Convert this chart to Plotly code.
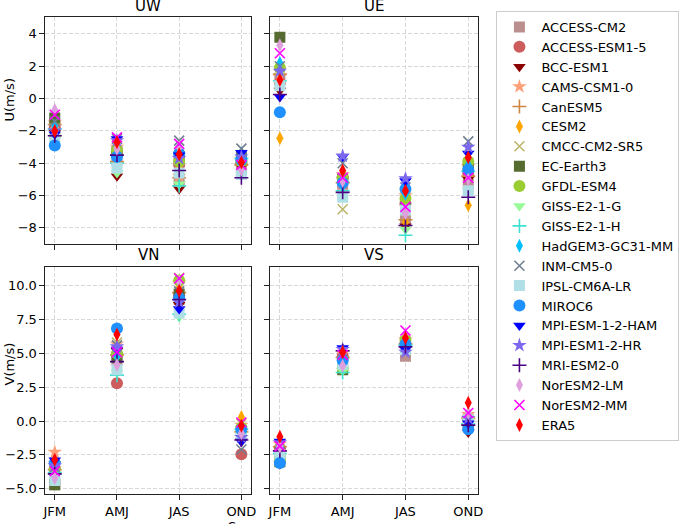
import plotly.graph_objects as go

seasons = ["JFM", "AMJ", "JAS", "OND"]
models = ["ACCESS-CM2", "ACCESS-ESM1-5", "BCC-ESM1", "CAMS-CSM1-0", "CanESM5", "CESM2",
          "CMCC-CM2-SR5", "EC-Earth3", "GFDL-ESM4", "GISS-E2-1-G", "GISS-E2-1-H",
          "HadGEM3-GC31-MM", "INM-CM5-0", "IPSL-CM6A-LR", "MIROC6", "MPI-ESM-1-2-HAM",
          "MPI-ESM1-2-HR", "MRI-ESM2-0", "NorESM2-LM", "NorESM2-MM", "ERA5"]
colors = ["#BC8F8F", "#CD5C5C", "#8B0000", "#FFA07A", "#CD853F", "#FFA500",
          "#BDB76B", "#556B2F", "#9ACD32", "#98FB98", "#40E0D0",
          "#00BFFF", "#708090", "#B0E0E6", "#1E90FF", "#0000FF",
          "#7B68EE", "#4B0082", "#DDA0DD", "#FF00FF", "#FF0000"]
symbols = ["square", "circle", "triangle-down", "star", "cross-thin", "diamond-tall",
           "x-thin", "square", "circle", "triangle-down", "cross-thin",
           "diamond-tall", "x-thin", "square", "circle", "triangle-down",
           "star", "cross-thin", "diamond-tall", "x-thin", "diamond-tall"]

# values per panel and season (same order as models)
uw_jfm = [-1.6, -1.8, -2.1, -1.5, -1.6, -1.9, -1.3, -1.2, -2.3, -2.4, -1.9, -1.7, -1.4, -2.5, -2.9, -2.2, -2.0, -2.3, -0.7, -1.0, -2.0]
uw_amj = [-3.8, -3.3, -4.8, -3.0, -3.9, -3.4, -2.9, -3.3, -3.2, -4.6, -4.0, -3.6, -2.5, -4.3, -3.6, -2.5, -2.6, -3.5, -3.1, -2.4, -2.7]
uw_jas = [-5.0, -4.1, -5.6, -4.8, -4.9, -4.2, -3.8, -3.6, -3.9, -5.3, -5.4, -3.3, -2.6, -4.6, -3.4, -3.5, -3.7, -4.45, -3.0, -2.8, -3.45]
uw_ond = [-4.4, -4.0, -4.2, -3.8, -4.1, -3.7, -3.5, -3.6, -3.9, -4.0, -3.7, -3.4, -3.1, -4.7, -3.8, -3.35, -3.6, -4.9, -4.4, -4.1, -3.95]

ue_jfm = [1.2, 1.0, 0.5, 1.4, 1.5, -2.45, 1.3, 3.8, 1.9, 0.9, 1.1, 2.2, 2.0, 0.8, -0.85, 0.1, 1.7, 0.25, 3.3, 2.8, 1.15]
ue_amj = [-5.3, -4.9, -5.0, -4.7, -5.2, -4.8, -6.85, -5.0, -4.9, -5.4, -5.7, -5.4, -4.0, -6.1, -5.2, -3.6, -3.55, -5.8, -5.1, -4.9, -4.45]
ue_jas = [-7.4, -6.5, -7.9, -6.0, -7.5, -7.65, -6.3, -6.4, -6.2, -8.1, -8.45, -5.9, -5.5, -6.9, -5.6, -5.1, -4.95, -7.85, -7.1, -6.7, -5.7]
ue_ond = [-5.3, -4.6, -5.0, -4.2, -4.8, -6.6, -4.0, -4.3, -3.9, -4.7, -4.5, -4.1, -2.65, -5.7, -4.4, -3.4, -3.0, -6.1, -5.0, -4.9, -3.65]

vn_jfm = [-4.7, -3.5, -3.2, -2.3, -3.6, -3.3, -3.9, -4.7, -3.5, -4.1, -3.8, -3.2, -3.4, -4.4, -3.1, -2.9, -3.3, -3.9, -4.2, -3.7, -2.85]
vn_amj = [4.5, 2.8, 5.2, 5.7, 4.9, 5.0, 5.8, 4.7, 5.0, 3.6, 3.4, 4.8, 5.6, 3.8, 6.85, 5.3, 5.5, 4.4, 4.15, 5.1, 6.4]
vn_jas = [9.0, 9.3, 8.6, 10.2, 9.5, 9.8, 10.6, 9.4, 10.4, 7.7, 7.9, 9.1, 9.6, 8.0, 9.1, 8.3, 8.8, 9.0, 10.3, 10.55, 9.65]
vn_ond = [-0.9, -2.45, -1.5, -0.3, -0.8, 0.3, -0.2, -0.7, -0.5, -1.0, -0.6, -0.4, -2.1, -1.1, -0.6, -1.5, -1.2, -1.4, -0.9, -0.1, -0.35]

vs_jfm = [-2.2, -2.0, -3.2, -1.7, -1.9, -1.6, -2.1, -3.0, -2.9, -2.7, -2.4, -1.8, -2.3, -2.5, -3.1, -1.5, -1.6, -2.2, -1.9, -1.85, -1.15]
vs_amj = [4.6, 4.8, 4.5, 5.0, 4.7, 4.9, 4.4, 3.8, 3.9, 3.75, 3.6, 4.6, 4.3, 4.2, 4.5, 5.4, 5.3, 5.2, 4.1, 4.9, 5.1]
vs_jas = [4.8, 5.5, 5.6, 6.0, 5.7, 6.2, 5.9, 5.8, 6.0, 5.5, 5.6, 5.9, 5.4, 5.3, 5.7, 5.3, 5.1, 5.5, 6.4, 6.7, 6.15]
vs_ond = [-0.1, 0.3, -0.85, 0.5, 0.2, 0.4, 0.1, -0.3, 0.2, 0.0, -0.2, 0.3, 0.0, 0.1, -0.6, -0.15, 0.2, -0.3, 0.6, 0.6, 1.35]

panels = [
    ("UW", "x", "y", [uw_jfm, uw_amj, uw_jas, uw_ond]),
    ("UE", "x2", "y2", [ue_jfm, ue_amj, ue_jas, ue_ond]),
    ("VN", "x3", "y3", [vn_jfm, vn_amj, vn_jas, vn_ond]),
    ("VS", "x4", "y4", [vs_jfm, vs_amj, vs_jas, vs_ond]),
]

sizes = {"square": 11, "circle": 12, "triangle-down": 11, "star": 11,
         "cross-thin": 10, "diamond-tall": 10, "x-thin": 10}

fig = go.Figure()
for i, (m, c, s) in enumerate(zip(models, colors, symbols)):
    thin = s.endswith("-thin")
    for p, (name, xa, ya, cols) in enumerate(panels):
        vals = [cols[k][i] for k in range(4)]
        fig.add_trace(go.Scatter(
            x=seasons, y=vals, mode="markers", name=m, legendgroup=m,
            showlegend=(p == 0), xaxis=xa, yaxis=ya,
            marker=dict(symbol=s, size=sizes[s], color=c,
                        line=dict(color=c, width=1.6 if thin else 0)),
        ))

W, H = 685, 524
def xd(a, b):
    return [a / W, b / W]
def yd(top, bot):
    return [1 - bot / H, 1 - top / H]

axis_common = dict(showline=True, linecolor="#222", linewidth=1, mirror=True,
                   ticks="outside", ticklen=5, tickwidth=1, tickcolor="#222",
                   showgrid=True, gridcolor="#d8d8d8", griddash="4px,2px", gridwidth=1,
                   zeroline=False, tickfont=dict(size=13, color="black"))

xrange = [-0.15, 3.15]
top_y = dict(range=[-9.0, 5.05], tickvals=[-8, -6, -4, -2, 0, 2, 4])
bot_y = dict(range=[-5.4, 11.4], tickvals=[-5, -2.5, 0, 2.5, 5, 7.5, 10], tickformat=".1f")

fig.update_layout(
    width=W, height=H, margin=dict(l=0, r=0, t=0, b=0),
    plot_bgcolor="white", paper_bgcolor="white",
    font=dict(family="DejaVu Sans", size=13, color="black"),
    xaxis=dict(domain=xd(43, 251), range=xrange, anchor="y", showticklabels=False, **axis_common),
    xaxis2=dict(domain=xd(271, 481), range=xrange, anchor="y2", showticklabels=False, **axis_common),
    xaxis3=dict(domain=xd(43, 251), range=xrange, anchor="y3", **axis_common),
    xaxis4=dict(domain=xd(271, 481), range=xrange, anchor="y4", **axis_common),
    yaxis=dict(domain=yd(17, 245), anchor="x", **top_y, **axis_common),
    yaxis2=dict(domain=yd(17, 245), anchor="x2", showticklabels=False, **top_y, **axis_common),
    yaxis3=dict(domain=yd(268, 496), anchor="x3", **bot_y, **axis_common),
    yaxis4=dict(domain=yd(268, 496), anchor="x4", showticklabels=False, **bot_y, **axis_common),
    legend=dict(x=500 / W, y=1 - 11 / H, xanchor="left", yanchor="top",
                bordercolor="#cccccc", borderwidth=1, bgcolor="white",
                font=dict(size=13, color="black"), tracegroupgap=0,
                itemwidth=34),
    showlegend=True,
)

titles = [("UW", 147, 6), ("UE", 376, 6), ("VN", 147, 256), ("VS", 376, 256)]
for t, cx, cy in titles:
    fig.add_annotation(text=t, x=cx / W, y=1 - cy / H, xref="paper", yref="paper",
                       xanchor="center", yanchor="middle", showarrow=False,
                       font=dict(size=15, color="black"))

fig.add_annotation(text="U(m/s)", x=7 / W, y=1 - 100 / H, xref="paper", yref="paper",
                   xanchor="center", yanchor="middle",
                   textangle=-90, showarrow=False, font=dict(size=13, color="black"))
fig.add_annotation(text="V(m/s)", x=7 / W, y=1 - 365 / H, xref="paper", yref="paper",
                   xanchor="center", yanchor="middle",
                   textangle=-90, showarrow=False, font=dict(size=13, color="black"))
fig.add_annotation(text="Season", x=252 / W, y=1 - 519 / H, xref="paper", yref="paper",
                   xanchor="center", yanchor="top", showarrow=False,
                   font=dict(size=13, color="black"))

fig.write_html("out.html", config={"displayModeBar": False},
               post_script="document.body.style.margin='0px';")
